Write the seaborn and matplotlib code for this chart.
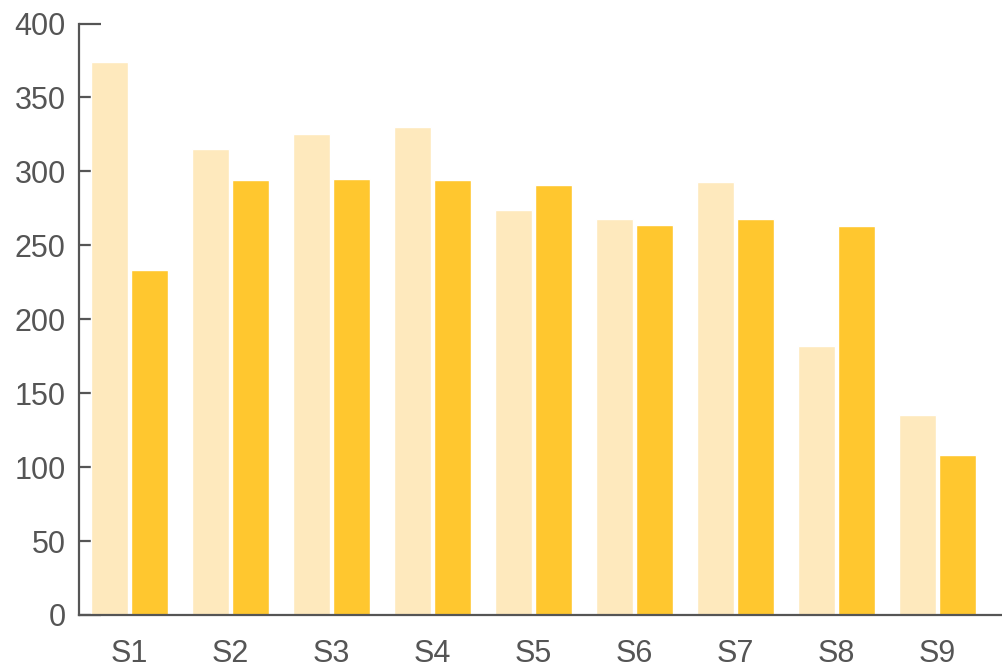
import pandas as pd
import matplotlib
matplotlib.use("Agg")
import matplotlib.pyplot as plt
import seaborn as sns

categories = ["S1", "S2", "S3", "S4", "S5", "S6", "S7", "S8", "S9"]
series_a = [374, 315, 325, 330, 274, 268, 293, 182, 135]
series_b = [233, 294, 295, 294, 291, 264, 268, 263, 108]

df = pd.DataFrame({
    "cat": categories * 2,
    "value": series_a + series_b,
    "series": ["A"] * len(categories) + ["B"] * len(categories),
})

sns.set_style("white")
plt.rcParams["font.family"] = ["Liberation Sans", "DejaVu Sans"]

fig = plt.figure(figsize=(10.03, 6.67), dpi=100)
ax = fig.add_axes([79 / 1003, 52 / 667, 1 - 79 / 1003, (615 - 23.5) / 667])

sns.barplot(
    data=df, x="cat", y="value", hue="series",
    palette=["#FEE9BD", "#FFC72F"],
    width=0.79, gap=0.075, saturation=1, legend=False, ax=ax,
)

ax.set_xlim(-0.5, 8.65)
ax.set_ylim(0, 400)
ax.set_yticks(range(0, 401, 50))
ax.set_xlabel("")
ax.set_ylabel("")
ax.set_axisbelow(True)  # ticks hide behind bars like the original

for side in ["top", "right"]:
    ax.spines[side].set_visible(False)
for side in ["left", "bottom"]:
    ax.spines[side].set_color("#555555")
    ax.spines[side].set_linewidth(1.6)

ax.tick_params(axis="y", left=True, direction="in", length=16, width=1.6, color="#555555",
               labelsize=22, labelcolor="#555555", pad=9.5)
ax.tick_params(axis="x", bottom=False, length=0, labelsize=22, labelcolor="#555555", pad=17)

fig.savefig("out.png", dpi=100)
